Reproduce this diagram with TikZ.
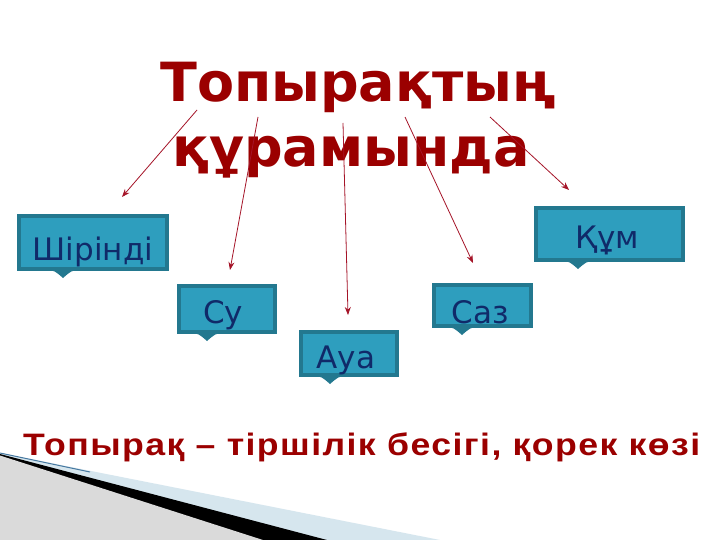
\documentclass[tikz,border=0pt]{standalone}
\usepackage{fontspec}
\usepackage{graphicx}
\usetikzlibrary{arrows.meta}
\newfontfamily\titlefont{DejaVu Sans}
\newfontfamily\boxfont{DejaVu Sans}
\newfontfamily\footfont{Liberation Sans}[LetterSpace=4]
\definecolor{titlered}{RGB}{155,0,0}
\definecolor{arrowred}{RGB}{165,20,40}
\definecolor{boxfill}{RGB}{46,158,190}
\definecolor{boxline}{RGB}{35,120,143}
\definecolor{boxtext}{RGB}{16,42,105}
\definecolor{wedgeblue}{RGB}{214,230,238}
\definecolor{wedgegray}{RGB}{218,218,218}
\definecolor{wedgeedge}{RGB}{70,120,160}
\tikzset{
  pic box/.style={draw=boxline, line width=4pt, fill=boxfill, inner sep=0pt},
  boxlabel/.style={anchor=base, inner sep=0pt, text=boxtext, font=\boxfont\fontsize{31}{36}\selectfont},
  titletext/.style={anchor=base, inner sep=0pt, text=titlered, font=\titlefont\bfseries\fontsize{54}{66}\selectfont},
  link/.style={draw=arrowred, line width=0.8pt, -{Stealth[length=8pt,width=6pt]}},
}
\newcommand{\boxtip}[2]{\fill[boxline] (#1-17,#2-2) .. controls (#1-8,#2) .. (#1,#2+7) .. controls (#1+8,#2) .. (#1+17,#2-2) -- cycle;}
\begin{document}
\begin{tikzpicture}[x=1pt,y=-1pt]
\useasboundingbox (0,0) rectangle (720,540);
\fill[white] (0,0) rectangle (720,540);
% bottom-left wedge
\fill[wedgeblue] (0,453) -- (440,540) -- (0,540) -- cycle;
\fill[black] (0,454) -- (327,540) -- (0,540) -- cycle;
\fill[wedgegray] (0,455.5) -- (263,540) -- (0,540) -- cycle;
\draw[wedgeedge, line width=1pt] (0,453) -- (90,472);
% title
\node[titletext] (title1) at (358,102) {Топырақтың};
\node[titletext] (title2) at (351,167) {құрамында};
% boxes
\node[pic box, minimum width=148pt, minimum height=53pt] (b1) at (93,242.5) {};
\boxtip{63}{271}
\node[boxlabel] (t1) at (93,260) {Шірінді};
\node[pic box, minimum width=96pt, minimum height=46pt] (b2) at (227,309) {};
\boxtip{207}{334}
\node[boxlabel] (t2) at (223,323) {Су};
\node[pic box, minimum width=96pt, minimum height=43pt] (b3) at (349,353.5) {};
\boxtip{330}{377}
\node[boxlabel] (t3) at (346,368) {Ауа};
\node[pic box, minimum width=97pt, minimum height=41pt] (b4) at (482.5,305.5) {};
\boxtip{462}{328}
\node[boxlabel] (t4) at (480,323) {Саз};
\node[pic box, minimum width=147pt, minimum height=52pt] (b5) at (609.5,234) {};
\boxtip{578}{262}
\node[boxlabel] (t5) at (607,248) {Құм};
% arrows
\coordinate (s1) at (197,110); \coordinate (e1) at (122,197);
\coordinate (s2) at (258,117); \coordinate (e2) at (230,270);
\coordinate (s3) at (343,123); \coordinate (e3) at (348,315);
\coordinate (s4) at (405,117); \coordinate (e4) at (473,263);
\coordinate (s5) at (490,117); \coordinate (e5) at (569,190);
\draw[link] (s1) -- (e1);
\draw[link] (s2) -- (e2);
\draw[link] (s3) -- (e3);
\draw[link] (s4) -- (e4);
\draw[link] (s5) -- (e5);
% footer
\node[anchor=base west, inner sep=0pt, text=titlered] (foot) at (23,455) {\resizebox{677pt}{\height}{\footfont\bfseries\fontsize{31}{36}\selectfont Топырақ – тіршілік бесігі, қорек көзі}};
\end{tikzpicture}
\end{document}
